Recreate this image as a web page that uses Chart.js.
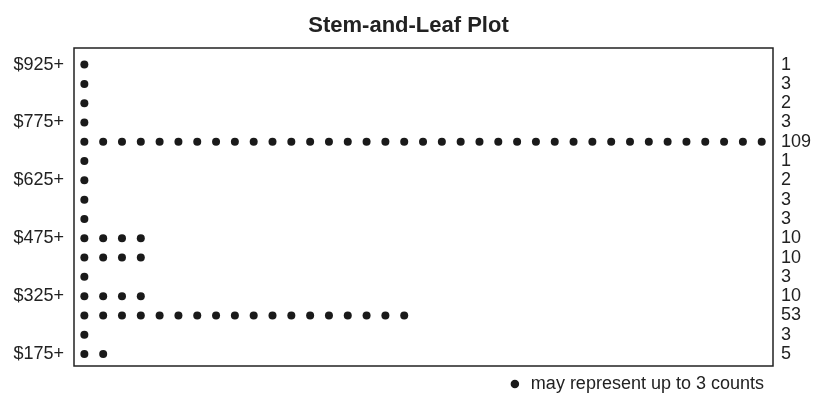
<!DOCTYPE html>
<html>
<head>
<meta charset="utf-8">
<script src="https://cdn.jsdelivr.net/npm/chart.js@4"></script>
<style>
  body { margin: 0; background: #fff; }
  #wrap { width: 817px; height: 403px; }
</style>
</head>
<body>
<div id="wrap"><canvas id="stem-chart"></canvas></div>
<script>
// stems (dollar bins), counts per stem, and the few stems that get a label
const stems = [925, 875, 825, 775, 725, 675, 625, 575, 525, 475, 425, 375, 325, 275, 225, 175];
const counts = [1, 3, 2, 3, 109, 1, 2, 3, 3, 10, 10, 3, 10, 53, 3, 5];
const stemLabels = ['$925+', '', '', '$775+', '', '', '$625+', '', '', '$475+', '', '', '$325+', '', '', '$175+'];
const countsPerDot = 3;
const legendText = 'may represent up to 3 counts';

// one dot for every (up to) 3 counts
const dots = [];
stems.forEach(function (s, i) {
    const n = Math.ceil(counts[i] / countsPerDot);
    for (let k = 1; k <= n; k++) dots.push({ x: k, y: s });
});

Chart.defaults.font.family = "'Liberation Sans', Arial, sans-serif";
Chart.defaults.font.size = 18;
Chart.defaults.color = '#222';

// plain frame round the plot area
const frame = {
    id: 'frame',
    afterDraw: function (chart) {
        const a = chart.chartArea, ctx = chart.ctx;
        ctx.save();
        ctx.strokeStyle = '#222';
        ctx.lineWidth = 1.5;
        ctx.strokeRect(a.left, a.top, a.right - a.left, a.bottom - a.top);
        ctx.restore();
    }
};

function stemTicks(scale) {
    scale.ticks = stems.map(function (v) { return { value: v }; });
}

new Chart(document.getElementById('stem-chart'), {
    type: 'scatter',
    data: {
        datasets: [{
            label: legendText,
            data: dots,
            backgroundColor: '#1a1a1a',
            borderWidth: 0,
            pointRadius: 4,
            pointHoverRadius: 4,
            pointStyle: 'circle'
        }]
    },
    options: {
        responsive: true,
        maintainAspectRatio: false,
        animation: false,
        layout: { padding: 0 },
        plugins: {
            title: {
                display: true,
                text: 'Stem-and-Leaf Plot',
                color: '#222',
                font: { size: 22, weight: 'bold' },
                padding: { top: 13, bottom: 8.6 }
            },
            legend: {
                display: true,
                position: 'bottom',
                align: 'end',
                fullSize: false,
                labels: {
                    usePointStyle: true,
                    pointStyle: 'circle',
                    boxWidth: 14,
                    boxHeight: 6,
                    padding: 9,
                    color: '#222',
                    font: { size: 18 }
                }
            },
            tooltip: { enabled: false }
        },
        scales: {
            x: {
                type: 'linear',
                display: false,
                min: 0.45,
                max: 37.6
            },
            y: {
                type: 'linear',
                position: 'left',
                min: 144,
                max: 968,
                afterBuildTicks: stemTicks,
                afterFit: function (scale) { scale.width = 74; },
                grid: { display: false, drawTicks: false },
                border: { display: false },
                ticks: {
                    autoSkip: false,
                    padding: 10,
                    callback: function (value) { return stemLabels[stems.indexOf(value)]; }
                }
            },
            y2: {
                type: 'linear',
                position: 'right',
                min: 144,
                max: 968,
                afterBuildTicks: stemTicks,
                afterFit: function (scale) { scale.width = 44; },
                grid: { display: false, drawTicks: false },
                border: { display: false },
                ticks: {
                    autoSkip: false,
                    padding: 8,
                    callback: function (value) { return String(counts[stems.indexOf(value)]); }
                }
            }
        }
    },
    plugins: [frame]
});
</script>
</body>
</html>
